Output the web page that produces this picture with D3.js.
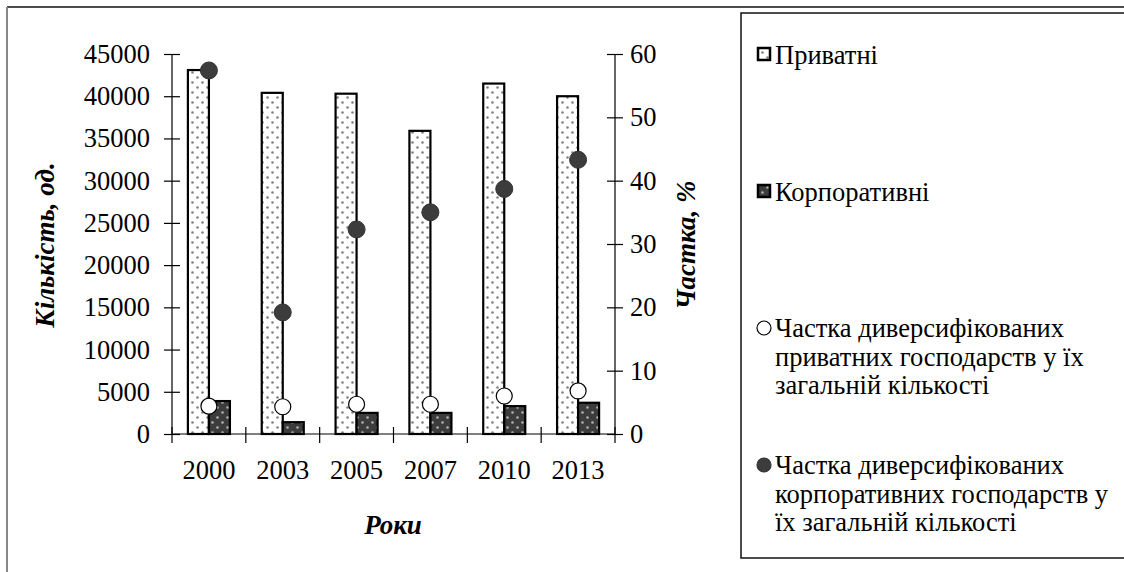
<!DOCTYPE html>
<html><head><meta charset="utf-8">
<script src="https://cdn.jsdelivr.net/npm/d3@7"></script>
<style>
body{margin:0;background:#fff;}
svg{display:block;font-family:"Liberation Serif","Times New Roman",serif;}
</style></head>
<body><svg id="c" width="1124" height="572"></svg>
<script>
const years = ["2000","2003","2005","2007","2010","2013"];
const privateCount = [43100, 40400, 40300, 35900, 41500, 40000];
const corporateCount = [3900, 1400, 2500, 2500, 3300, 3700];
const privateShare = [4.4, 4.3, 4.7, 4.7, 6.0, 6.8];
const corporateShare = [57.4, 19.2, 32.3, 35.0, 38.7, 43.3];
const leftTicks = [0,5000,10000,15000,20000,25000,30000,35000,40000,45000];
const rightTicks = [0,10,20,30,40,50,60];
const legendLabels = [
  ["Приватні"],
  ["Корпоративні"],
  ["Частка диверсифікованих","приватних господарств у їх","загальній кількості"],
  ["Частка диверсифікованих","корпоративних господарств у","їх загальній кількості"]
];

const svg = d3.select("#c");
const FS = 26.5;
const defs = svg.append("defs");
function mkPattern(id, bg, dot){
  const p = defs.append("pattern").attr("id", id).attr("patternUnits","userSpaceOnUse")
    .attr("width",10).attr("height",10);
  p.append("rect").attr("width",10).attr("height",10).attr("fill",bg);
  p.append("circle").attr("cx",2.5).attr("cy",2.5).attr("r",1.3).attr("fill",dot);
  p.append("circle").attr("cx",7.5).attr("cy",7.5).attr("r",1.3).attr("fill",dot);
}
mkPattern("pPriv","#ffffff","#808080");
mkPattern("pCorp","#3c3c3c","#b0b0b0");

// frames
svg.append("line").attr("x1",7).attr("y1",7).attr("x2",1124).attr("y2",7).attr("stroke","#111").attr("stroke-width",1.5);
svg.append("line").attr("x1",7).attr("y1",7).attr("x2",7).attr("y2",572).attr("stroke","#888").attr("stroke-width",2);

const pL=172, pR=615, pT=54, pB=434;
const x = d3.scaleBand().domain(years).range([pL,pR]).paddingInner(0).paddingOuter(0);
const sub = d3.scaleBand().domain(["p","c"]).range([0,x.bandwidth()]).paddingInner(0).paddingOuter(0.757);
const yL = d3.scaleLinear().domain([0,45000]).range([pB,pT]);
const yR = d3.scaleLinear().domain([0,60]).range([pB,pT]);

// bars
const g = svg.append("g");
g.selectAll(".bp").data(years).enter().append("rect")
  .attr("x",(d)=>x(d)+sub("p")).attr("width",sub.bandwidth())
  .attr("y",(d,i)=>yL(privateCount[i])).attr("height",(d,i)=>pB-yL(privateCount[i]))
  .attr("fill","url(#pPriv)").attr("stroke","#000").attr("stroke-width",2.2);
g.selectAll(".bc").data(years).enter().append("rect")
  .attr("x",(d)=>x(d)+sub("c")).attr("width",sub.bandwidth())
  .attr("y",(d,i)=>yL(corporateCount[i])).attr("height",(d,i)=>pB-yL(corporateCount[i]))
  .attr("fill","url(#pCorp)").attr("stroke","#000").attr("stroke-width",2.2);

// axes
const axL = svg.append("g").attr("transform",`translate(${pL},0)`)
  .call(d3.axisLeft(yL).tickValues(leftTicks).tickSize(8).tickFormat(d3.format("d")));
axL.selectAll(".tick line").clone().attr("x2",8);
axL.selectAll(".tick text").attr("x",-22);
const axR = svg.append("g").attr("transform",`translate(${pR},0)`)
  .call(d3.axisRight(yR).tickValues(rightTicks).tickSize(8).tickFormat(d3.format("d")));
axR.selectAll(".tick line").clone().attr("x2",-8);
axR.selectAll(".tick text").attr("x",15);
const axX = svg.append("g").attr("transform",`translate(0,${pB})`)
  .call(d3.axisBottom(x).tickSize(0));
axX.selectAll(".tick text").attr("dy",0).attr("y",45);
// boundary ticks
svg.append("g").selectAll("line").data(years.concat(["end"])).enter().append("line")
  .attr("x1",(d,i)=> i<years.length ? x(d) : pR).attr("x2",(d,i)=> i<years.length ? x(d) : pR)
  .attr("y1",pB-7).attr("y2",pB+9).attr("stroke","#000").attr("stroke-width",1.2);
[axL,axR,axX].forEach(a=>{
  a.select(".domain").attr("stroke","#000").attr("stroke-width",1.2);
  a.selectAll(".tick line").attr("stroke","#000").attr("stroke-width",1.2);
  a.selectAll(".tick text").attr("font-family","Liberation Serif").attr("font-size",FS).attr("fill","#000");
});
axL.select(".domain").attr("d",`M0,${pT}V${pB}`);
axR.select(".domain").attr("d",`M0,${pT}V${pB}`);
axX.select(".domain").attr("d",`M${pL},0H${pR}`);

// points
const cx = (d)=>x(d)+x.bandwidth()/2;
svg.append("g").selectAll("circle").data(years).enter().append("circle")
  .attr("cx",cx).attr("cy",(d,i)=>yR(privateShare[i])).attr("r",8)
  .attr("fill","#fff").attr("stroke","#000").attr("stroke-width",1.2);
svg.append("g").selectAll("circle").data(years).enter().append("circle")
  .attr("cx",cx).attr("cy",(d,i)=>yR(corporateShare[i])).attr("r",8.5)
  .attr("fill","#3c3c3c").attr("stroke","#333").attr("stroke-width",1);

// titles
const tstyle = s=>s.attr("font-family","Liberation Serif").attr("font-size",27).attr("font-weight","bold").attr("font-style","italic").attr("fill","#000").attr("text-anchor","middle");
svg.append("text").attr("transform","translate(54,245) rotate(-90)").text("Кількість, од.").call(tstyle);
svg.append("text").attr("transform","translate(695,245) rotate(-90)").text("Частка, %").call(tstyle);
svg.append("text").attr("x",393).attr("y",534).text("Роки").call(tstyle);

// legend
svg.append("rect").attr("x",741).attr("y",13).attr("width",400).attr("height",545)
  .attr("fill","none").attr("stroke","#111").attr("stroke-width",1.5);
const lg = svg.append("g");
const itemY = [55,192,328,465];
legendLabels.forEach((lines,i)=>{
  const y0 = itemY[i];
  if(i<2){
    lg.append("rect").attr("x",758).attr("y",y0-7).attr("width",12).attr("height",12)
      .attr("fill", i===0?"url(#pPriv)":"url(#pCorp)").attr("stroke","#000").attr("stroke-width",2.5);
  } else {
    lg.append("circle").attr("cx",764).attr("cy",y0).attr("r",7)
      .attr("fill", i===2?"#fff":"#3c3c3c").attr("stroke", i===2?"#000":"#333").attr("stroke-width",1.2);
  }
  lines.forEach((t,j)=>{
    lg.append("text").attr("x",775).attr("y",y0+j*28.5).attr("dy","0.35em")
      .attr("font-family","Liberation Serif").attr("font-size",FS).attr("fill","#000").text(t);
  });
});
</script></body></html>
